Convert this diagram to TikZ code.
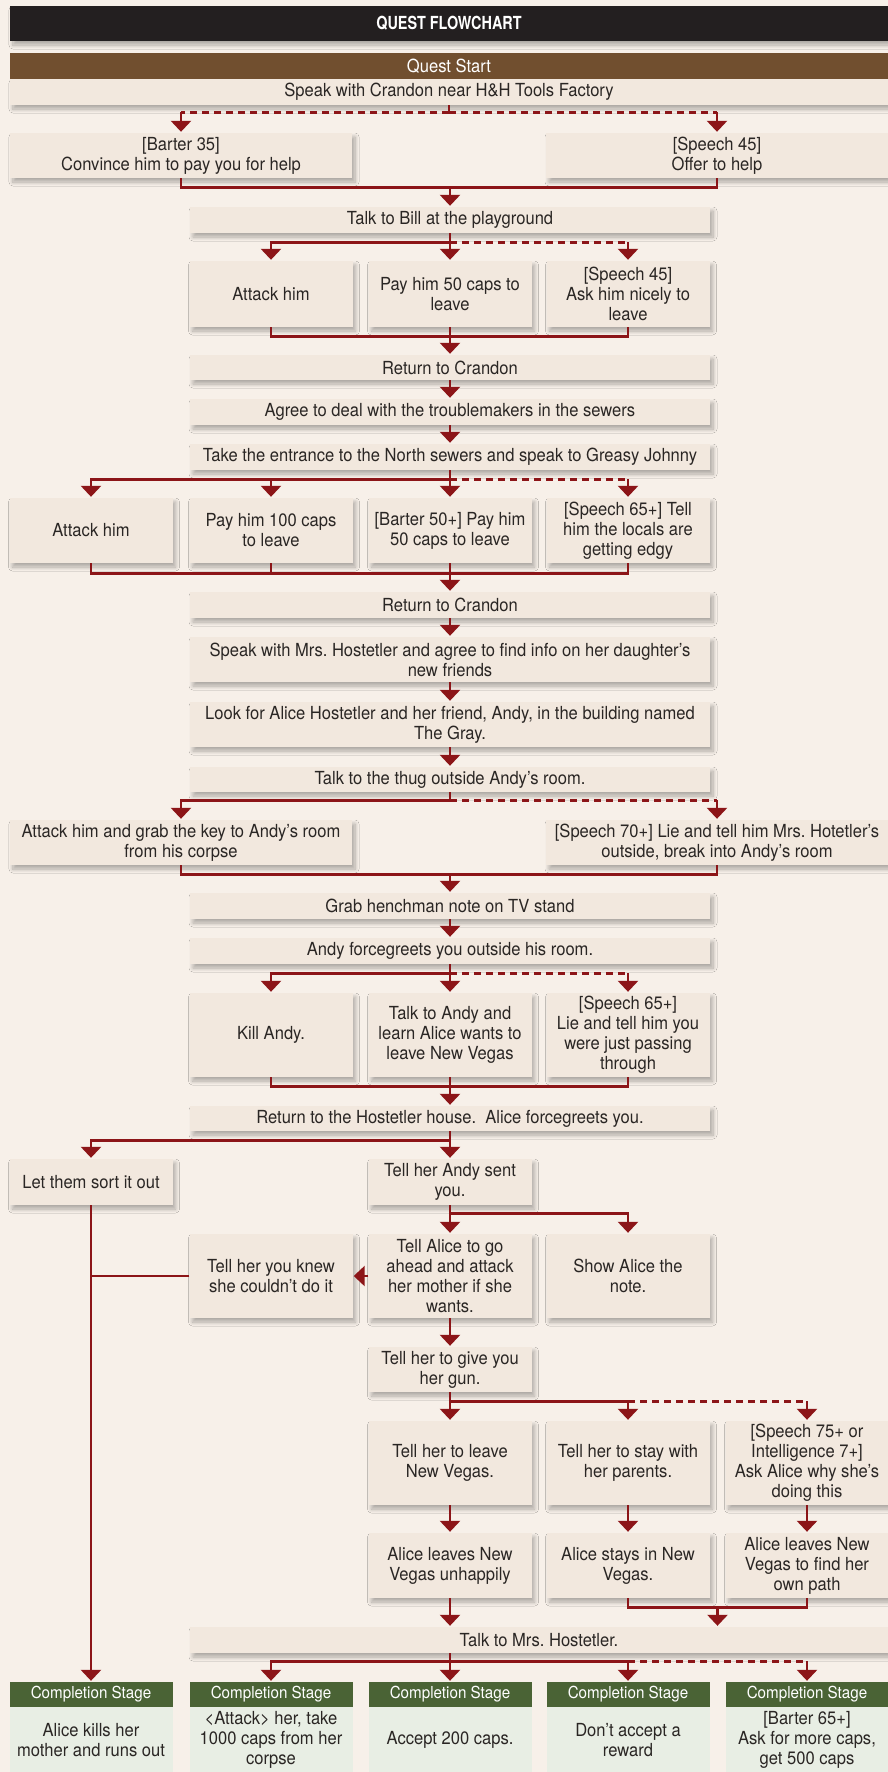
\documentclass[tikz,border=0pt]{standalone}
\usepackage{fontspec}
\setmainfont{TeX Gyre Heros}[FakeStretch=0.92]
\newfontfamily\titlefont{TeX Gyre Heros}[FakeStretch=0.8]
\usepackage{tikz}
\usetikzlibrary{arrows.meta,positioning,calc,shadows.blur}
\usepackage{xcolor}
\definecolor{paper}{HTML}{F7F0E9}
\definecolor{boxfill}{HTML}{F2E8DE}
\definecolor{inkdark}{HTML}{231F20}
\definecolor{questbrown}{HTML}{714F2F}
\definecolor{stagegreen}{HTML}{4A6335}
\definecolor{stagefill}{HTML}{E8EEE4}
\definecolor{linkred}{HTML}{8C1518}
\definecolor{textgray}{HTML}{2A2624}
\frenchspacing

\tikzset{
  softshadow/.style={blur shadow={shadow xshift=3pt, shadow yshift=-4pt, shadow blur radius=4pt,
    shadow blur steps=8, shadow opacity=30}},
  stepnode/.style={fill=boxfill, text=textgray, align=center, inner sep=2pt,
    font=\fontsize{18}{20}\selectfont, softshadow},
  colbox/.style={stepnode, minimum width=163pt},
  widebox/.style={stepnode, minimum width=520pt},
  halfbox/.style={stepnode, minimum width=342pt},
  fullbox/.style={stepnode, minimum width=878pt},
  stagehead/.style={fill=stagegreen, text=white, minimum width=163pt, minimum height=25pt,
    inner sep=0pt, font=\fontsize{16.5}{18}\selectfont},
  stagebody/.style={fill=stagefill, text=textgray, minimum width=163pt, minimum height=65pt,
    align=center, inner sep=2pt, font=\fontsize{18}{20}\selectfont},
  link/.style={draw=linkred, line width=2.6pt},
  arr/.style={link, -{Triangle[width=20pt,length=11pt]}, shorten >=1pt},
  optlink/.style={link, dash pattern=on 7pt off 5pt},
}

\begin{document}
\begin{tikzpicture}[x=1pt,y=-1pt]
  \useasboundingbox (0,0) rectangle (888,1772);
  \fill[paper] (0,0) rectangle (888,1772);

  % Header bars
  \node[fill=inkdark, text=white, minimum width=878pt, minimum height=35pt,
    font=\titlefont\bfseries\fontsize{18}{20}\selectfont, softshadow]
    (title) at (449,23.5) {QUEST FLOWCHART};
  \node[fill=questbrown, text=white, minimum width=878pt, minimum height=26pt,
    font=\fontsize{18}{20}\selectfont] (start) at (449,66) {Quest Start};
  \node[fullbox, minimum height=26pt] (crandon) at (449,92) {Speak with Crandon near H\&H Tools Factory};

  % First offer
  \node[halfbox, minimum height=45pt] (barter35) at (181,155.5) {[Barter 35]\\Convince him to pay you for help};
  \node[halfbox, minimum height=45pt] (offer) at (717,155.5) {[Speech 45]\\Offer to help};

  % Bill
  \node[widebox, minimum height=26pt] (bill) at (450,220) {Talk to Bill at the playground};
  \node[colbox, minimum height=66pt] (attack1) at (271,294) {Attack him};
  \node[colbox, minimum height=66pt] (pay50) at (450,294) {Pay him 50 caps to\\leave};
  \node[colbox, minimum height=66pt] (nicely) at (628,294) {[Speech 45]\\Ask him nicely to\\leave};
  \node[widebox, minimum height=25pt] (return1) at (450,367.5) {Return to Crandon};

  % Sewers
  \node[widebox, minimum height=26pt] (agree) at (450,412) {Agree to deal with the troublemakers in the sewers};
  \node[widebox, minimum height=26pt] (entrance) at (450,457) {Take the entrance to the North sewers and speak to Greasy Johnny};
  \node[colbox, minimum height=65pt] (attack2) at (91,530.5) {Attack him};
  \node[colbox, minimum height=65pt] (pay100) at (271,530.5) {Pay him 100 caps\\to leave};
  \node[colbox, minimum height=65pt] (barter50) at (450,530.5) {[Barter 50+] Pay him\\50 caps to leave};
  \node[colbox, minimum height=65pt] (locals) at (628,530.5) {[Speech 65+] Tell\\him the locals are\\getting edgy};
  \node[widebox, minimum height=26pt] (return2) at (450,605) {Return to Crandon};

  % The Gray
  \node[widebox, minimum height=45pt] (speakhost) at (450,659.5) {Speak with Mrs. Hostetler and agree to find info on her daughter’s\\new friends};
  \node[widebox, minimum height=45pt] (lookalice) at (450,724.5) {Look for Alice Hostetler and her friend, Andy, in the building named\\The Gray.};
  \node[widebox, minimum height=25pt] (thug) at (450,779.5) {Talk to the thug outside Andy’s room.};
  \node[halfbox, minimum height=45pt] (grabkey) at (181,842.5) {Attack him and grab the key to Andy’s room\\from his corpse};
  \node[halfbox, minimum height=45pt] (liedoor) at (717,842.5) {[Speech 70+] Lie and tell him Mrs. Hotetler’s\\outside, break into Andy’s room};
  \node[widebox, minimum height=26pt] (henchman) at (450,906) {Grab henchman note on TV stand};
  \node[widebox, minimum height=26pt] (andygreets) at (450,951) {Andy forcegreets you outside his room.};
  \node[colbox, minimum height=84pt] (killandy) at (271,1035) {Kill Andy.};
  \node[colbox, minimum height=84pt] (learnalice) at (450,1035) {Talk to Andy and\\learn Alice wants to\\leave New Vegas};
  \node[colbox, minimum height=84pt] (passing) at (628,1035) {[Speech 65+]\\Lie and tell him you\\were just passing\\through};

  % Hostetler house
  \node[widebox, minimum height=25pt] (hosthouse) at (450,1118.5) {Return to the Hostetler house.~ Alice forcegreets you.};
  \node[colbox, minimum height=46pt] (sortout) at (91,1182) {Let them sort it out};
  \node[colbox, minimum height=46pt] (andysent) at (450,1182) {Tell her Andy sent\\you.};
  \node[colbox, minimum height=84pt] (knew) at (271,1276) {Tell her you knew\\she couldn’t do it};
  \node[colbox, minimum height=84pt] (goahead) at (450,1276) {Tell Alice to go\\ahead and attack\\her mother if she\\wants.};
  \node[colbox, minimum height=84pt] (shownote) at (628,1276) {Show Alice the\\note.};
  \node[colbox, minimum height=45pt] (gun) at (450,1369.5) {Tell her to give you\\her gun.};
  \node[colbox, minimum height=84pt] (leave) at (450,1463) {Tell her to leave\\New Vegas.};
  \node[colbox, minimum height=84pt] (stay) at (628,1463) {Tell her to stay with\\her parents.};
  \node[colbox, minimum height=84pt] (why) at (807,1463) {[Speech 75+ or\\Intelligence 7+]\\Ask Alice why she’s\\doing this};
  \node[colbox, minimum height=65pt] (leaves) at (450,1565.5) {Alice leaves New\\Vegas unhappily};
  \node[colbox, minimum height=65pt] (stays) at (628,1565.5) {Alice stays in New\\Vegas.};
  \node[colbox, minimum height=65pt] (ownpath) at (807,1565.5) {Alice leaves New\\Vegas to find her\\own path};
  \node[stepnode, minimum width=698pt, minimum height=26pt] (talkmrs) at (539,1640) {Talk to Mrs. Hostetler.};

  % Completion stages
  \foreach \k/\x/\txt in {1/91/{Alice kills her\\mother and runs out},
      2/271/{<Attack> her, take\\1000 caps from her\\corpse},
      3/450/{Accept 200 caps.},
      4/628/{Don’t accept a\\reward},
      5/807/{[Barter 65+]\\Ask for more caps,\\get 500 caps}}{
    \node[stagehead] (comp\k h) at (\x,1694.5) {Completion Stage};
    \node[stagebody, below=0pt of comp\k h] (comp\k) {\txt};
  }

  % Connectors: first offer
  \draw[link] (crandon.south) -- ++(0,7) coordinate (crsplit);
  \draw[optlink] (crsplit) -- (crsplit -| barter35.north);
  \draw[optlink] (crsplit) -- (crsplit -| offer.north);
  \draw[arr] (crsplit -| barter35.north) -- (barter35.north);
  \draw[arr] (crsplit -| offer.north) -- (offer.north);
  \draw[link] (barter35.south) -- ++(0,9) coordinate (mg1) -| (offer.south);
  \draw[arr] (mg1 -| bill.north) -- (bill.north);

  % Bill
  \draw[link] (bill.south) -- ++(0,9) coordinate (bs);
  \draw[arr] (bs) -| (attack1.north);
  \draw[arr] (bs) -- (pay50.north);
  \draw[optlink] (bs) -- (bs -| nicely.north);
  \draw[arr] (bs -| nicely.north) -- (nicely.north);
  \draw[link] (attack1.south) -- ++(0,9) -| (nicely.south);
  \draw[arr] (pay50.south) -- (return1.north);
  \draw[arr] (return1.south) -- (agree.north);
  \draw[arr] (agree.south) -- (entrance.north);

  % Sewers
  \draw[link] (entrance.south) -- ++(0,9) coordinate (es);
  \draw[arr] (es) -| (attack2.north);
  \draw[arr] (es -| pay100.north) -- (pay100.north);
  \draw[arr] (es) -- (barter50.north);
  \draw[optlink] (es) -- (es -| locals.north);
  \draw[arr] (es -| locals.north) -- (locals.north);
  \draw[link] (attack2.south) -- ++(0,10) coordinate (mg3) -| (locals.south);
  \draw[link] (pay100.south) -- (pay100.south |- mg3);
  \draw[arr] (barter50.south) -- (return2.north);
  \draw[arr] (return2.south) -- (speakhost.north);
  \draw[arr] (speakhost.south) -- (lookalice.north);
  \draw[arr] (lookalice.south) -- (thug.north);

  % Thug
  \draw[link] (thug.south) -- ++(0,8) coordinate (ts);
  \draw[arr] (ts) -| (grabkey.north);
  \draw[optlink] (ts) -- (ts -| liedoor.north);
  \draw[arr] (ts -| liedoor.north) -- (liedoor.north);
  \draw[link] (grabkey.south) -- ++(0,9) coordinate (mg4) -| (liedoor.south);
  \draw[arr] (mg4 -| henchman.north) -- (henchman.north);
  \draw[arr] (henchman.south) -- (andygreets.north);

  % Andy
  \draw[link] (andygreets.south) -- ++(0,9) coordinate (ags);
  \draw[arr] (ags) -| (killandy.north);
  \draw[arr] (ags) -- (learnalice.north);
  \draw[optlink] (ags) -- (ags -| passing.north);
  \draw[arr] (ags -| passing.north) -- (passing.north);
  \draw[link] (killandy.south) -- ++(0,9) -| (passing.south);
  \draw[arr] (learnalice.south) -- (hosthouse.north);

  % Alice
  \draw[link] (hosthouse.south) -- ++(0,9) coordinate (hs);
  \draw[arr] (hs) -| (sortout.north);
  \draw[arr] (hs) -- (andysent.north);
  \draw[link] (andysent.south) -- ++(0,8) coordinate (as);
  \draw[arr] (as) -- (goahead.north);
  \draw[arr] (as) -| (shownote.north);
  \draw[arr] (goahead.west) -- (knew.east);
  \draw[link] (knew.west) -- (knew.west -| sortout.south);
  \draw[arr] (sortout.south) -- (comp1h.north);
  \draw[arr] (goahead.south) -- (gun.north);

  % Gun
  \draw[link] (gun.south) -- ++(0,9) coordinate (gs);
  \draw[arr] (gs) -- (leave.north);
  \draw[link] (gs) -- (gs -| stay.north);
  \draw[arr] (gs -| stay.north) -- (stay.north);
  \draw[optlink] (gs -| stay.north) -- (gs -| why.north);
  \draw[arr] (gs -| why.north) -- (why.north);
  \draw[arr] (leave.south) -- (leaves.north);
  \draw[arr] (stay.south) -- (stays.north);
  \draw[arr] (why.south) -- (ownpath.north);
  \draw[link] (stays.south) -- ++(0,9) coordinate (mg6) -| (ownpath.south);
  \coordinate (mg6c) at ($(mg6)!.5!(mg6 -| ownpath.south)$);
  \draw[arr] (mg6c) -- (mg6c |- talkmrs.north);
  \draw[arr] (leaves.south) -- (leaves.south |- talkmrs.north);

  % Reward
  \draw[link] (leaves.south |- talkmrs.south) -- ++(0,8) coordinate (ms);
  \draw[arr] (ms) -| (comp2h.north);
  \draw[arr] (ms) -- (comp3h.north);
  \draw[link] (ms) -- (ms -| comp4h.north);
  \draw[arr] (ms -| comp4h.north) -- (comp4h.north);
  \draw[optlink] (ms -| comp4h.north) -- (ms -| comp5h.north);
  \draw[arr] (ms -| comp5h.north) -- (comp5h.north);
\end{tikzpicture}
\end{document}
